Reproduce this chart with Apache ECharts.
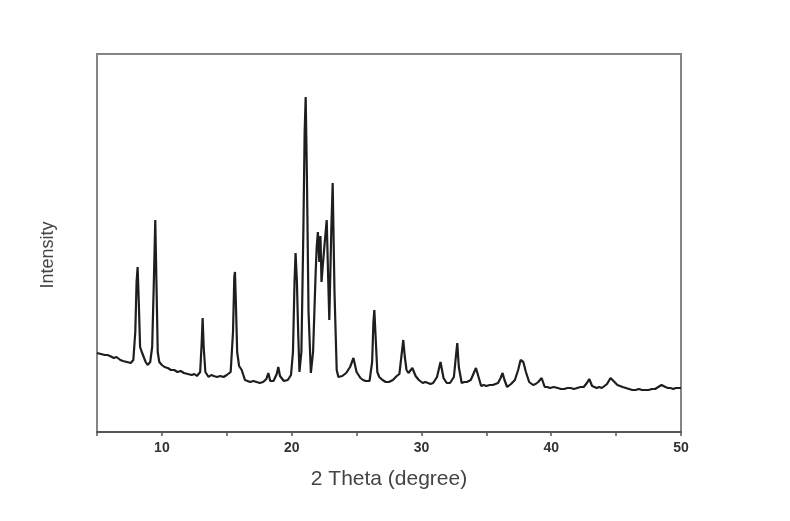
<!DOCTYPE html>
<html>
<head>
<meta charset="utf-8">
<script src="https://cdn.jsdelivr.net/npm/echarts@6/dist/echarts.min.js"></script>
<style>html,body{margin:0;padding:0;background:#fff;}#c{width:790px;height:521px;}</style>
</head>
<body>
<div id="c"></div>
<script>
// 2 Theta (degree) positions
const twoTheta = [
5.0,5.15,5.3,5.45,5.6,5.8,6.0,6.15,6.3,6.5,6.6,6.8,7.0,7.15,7.3,7.45,7.6,7.8,7.95,8.05,8.13,8.22,8.32,8.45,8.6,8.75,8.9,9.1,9.25,9.38,9.49,9.58,9.68,9.8,
10.0,10.2,10.45,10.7,10.95,11.2,11.45,11.7,12.0,12.3,12.5,12.7,12.95,13.07,13.14,13.22,13.35,13.6,13.8,14.0,14.25,14.5,14.75,15.0,15.3,15.48,15.58,15.63,15.7,15.8,15.95,16.15,
16.4,16.6,16.8,17.05,17.3,17.55,17.8,18.05,18.2,18.35,18.6,18.85,18.97,19.1,19.4,19.7,19.95,20.1,20.22,20.3,20.4,20.5,20.6,20.75,20.9,21.0,21.08,
21.18,21.3,21.48,21.65,21.85,21.93,22.02,22.13,22.22,22.3,22.39,22.55,22.7,22.8,22.9,23.05,23.16,23.3,23.47,23.6,23.9,24.2,24.5,24.76,
25.0,25.3,25.5,25.7,26.0,26.2,26.3,26.37,26.45,26.6,26.75,27.0,27.25,27.5,27.8,28.1,28.3,28.45,28.6,28.72,28.85,29.0,29.3,29.4,29.55,29.8,
30.1,30.3,30.5,30.7,30.9,31.2,31.47,31.7,31.95,32.2,32.5,32.65,32.76,32.88,33.1,33.3,33.5,33.8,34.0,34.2,34.4,34.6,34.8,35.0,35.25,35.5,35.7,35.9,36.1,36.25,36.4,
36.6,36.9,37.2,37.45,37.64,37.85,38.05,38.3,38.6,38.8,39.0,39.26,39.5,39.7,39.9,40.2,40.5,40.75,41.0,41.25,41.5,41.75,42.0,42.25,42.5,42.75,42.93,43.15,43.5,43.7,43.9,44.1,44.3,44.57,
44.8,45.1,45.3,45.5,45.75,46.0,46.25,46.5,46.75,47.0,47.25,47.5,47.75,48.0,48.25,48.5,48.8,49.0,49.2,49.4,49.6,49.8,50.0
];
// Intensity (a.u.)
const intensity = [
79,80,78,79,77,77,76,77,74,75,73,72,71,72,70,69,69,72,100,150,165,130,85,80,78,70,67,70,85,150,212,150,80,70,
67,65,64,62,62,60,61,59,58,57,58,56,60,90,114,85,60,55,57,56,55,56,55,57,60,100,155,160,130,80,66,62,
52,51,50,51,50,49,50,53,59,51,51,58,65,56,51,52,57,80,150,179,152,100,60,80,200,300,335,
250,120,59,80,160,185,200,170,196,150,165,190,212,160,112,200,249,140,62,55,56,59,65,74,
60,54,52,51,51,70,110,122,100,60,55,52,50,50,52,56,58,75,92,75,62,59,64,65,56,52,
49,50,49,48,49,55,70,54,49,49,55,75,89,65,49,50,50,52,58,64,55,46,47,46,47,47,48,49,54,59,52,
45,48,52,62,72,70,60,50,47,48,50,54,45,45,44,45,44,43,43,44,44,43,44,45,45,49,53,46,44,45,44,46,48,54,
51,47,46,45,44,43,42,42,43,42,42,42,43,43,45,47,45,44,44,43,44,44,44
];
const xTicks = [10,20,30,40,50];

const data = twoTheta.map((t,i)=>[t,intensity[i]]);
const chart = echarts.init(document.getElementById('c'), null, {renderer:'canvas'});
chart.setOption({
  animation:false,
  backgroundColor:'#fff',
  grid:{left:97,right:109,top:54,bottom:89,show:true,borderColor:'#858585',borderWidth:2,backgroundColor:'transparent'},
  xAxis:{
    type:'value',min:5,max:50,interval:5,
    name:'2 Theta (degree)',nameLocation:'middle',nameGap:37,
    nameTextStyle:{fontFamily:'Liberation Sans, Arial',fontSize:21,color:'#444'},
    axisLine:{show:true,lineStyle:{color:'#555',width:2}},
    axisTick:{show:true,inside:false,length:4,lineStyle:{color:'#555',width:1.5}},
    axisLabel:{margin:9,fontFamily:'Liberation Sans, Arial',fontSize:14,fontWeight:'bold',color:'#333',
      formatter:v=>xTicks.indexOf(v)>=0?String(v):''},
    splitLine:{show:false}
  },
  yAxis:{
    type:'value',min:0,max:378,
    axisLine:{show:true,lineStyle:{color:'#858585',width:2}},
    axisTick:{show:false},axisLabel:{show:false},splitLine:{show:false}
  },
  graphic:[{
    type:'text',rotation:Math.PI/2,x:48,y:255,
    style:{text:'Intensity',fontFamily:'Liberation Sans, Arial',fontSize:18,fill:'#444',textAlign:'center',textVerticalAlign:'middle'}
  }],
  series:[{
    type:'line',data:data,symbol:'none',smooth:false,
    lineStyle:{color:'#1e1e1e',width:2.2}
  }]
});
</script>
</body>
</html>
